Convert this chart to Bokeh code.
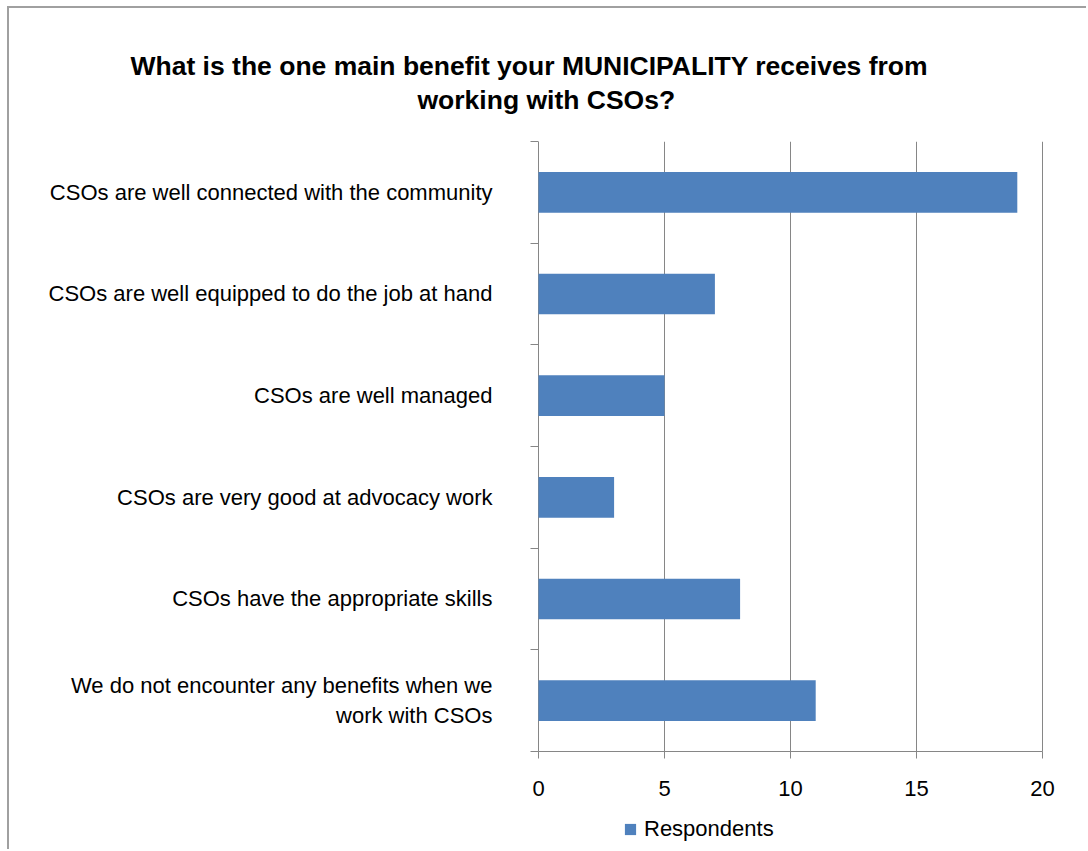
from bokeh.plotting import figure
from bokeh.models import (FixedTicker, Legend, LegendItem, Range1d,
                          LinearAxis, Title)
from bokeh.embed import file_html
from bokeh.resources import INLINE

title_line1 = "What is the one main benefit your MUNICIPALITY receives from"
title_line2 = "working with CSOs?"
categories = [
    "CSOs are well connected with the community",
    "CSOs are well equipped to do the job at hand",
    "CSOs are well managed",
    "CSOs are very good at advocacy work",
    "CSOs have the appropriate skills",
    "We do not encounter any benefits when we\nwork with CSOs",
]
respondents = [19, 7, 5, 3, 8, 11]
series_name = "Respondents"
x_ticks = [0, 5, 10, 15, 20]

n = len(categories)
# top category first: position of band centre (numeric axis 0..n)
ypos = [n - i - 0.5 for i in range(n)]

FONT = "Liberation Sans"
GRAY = "#868686"
BLUE = "#4F81BD"

PX_PER_UNIT = 25.2   # 504 px for 0..20
PAD_L, PAD_R = 8, 16  # px of frame beyond 0 and 20 (room for tick labels)

# frame extends below the value axis so that the legend can sit inside it
p = figure(frame_width=504 + PAD_L + PAD_R, frame_height=708,
           min_border_left=529 - PAD_L, min_border_top=133,
           min_border_right=44 - PAD_R, min_border_bottom=0,
           x_range=Range1d(-PAD_L / PX_PER_UNIT, 20 + PAD_R / PX_PER_UNIT),
           y_range=Range1d(-0.964, n),
           output_backend="svg", toolbar_location=None, title=None,
           x_axis_location=None, y_axis_location=None)
p.outline_line_color = None
p.xgrid.visible = False
p.ygrid.visible = False
p.styles = {"border-left": "2px solid #a0a0a0", "border-top": "2px solid #a0a0a0",
            "margin-left": "7px", "margin-top": "6px"}

# vertical gridlines (and the category axis line at 0) spanning the bands
p.segment(x0=x_ticks, y0=0, x1=x_ticks, y1=n,
          line_color=GRAY, line_width=1, level="underlay")

bars = p.hbar(y=ypos, right=respondents, left=0, height=0.4,
              fill_color=BLUE, line_color=None)

# x axis fixed at y = 0
xaxis = LinearAxis(ticker=FixedTicker(ticks=x_ticks, minor_ticks=[]),
                   fixed_location=0, bounds=(0, 20))
xaxis.axis_line_color = GRAY
xaxis.major_tick_line_color = GRAY
xaxis.major_tick_out = 7
xaxis.major_tick_in = 0
xaxis.minor_tick_out = 0
xaxis.major_label_text_font = FONT
xaxis.major_label_text_font_size = "22px"
xaxis.major_label_text_color = "#000000"
xaxis.major_label_standoff = 23
p.add_layout(xaxis, "below")

# y axis: labels at band centres, ticks at band boundaries
yaxis = LinearAxis(ticker=FixedTicker(ticks=ypos, minor_ticks=list(range(n + 1))),
                   bounds=(0, n))
yaxis.major_label_overrides = {ypos[i]: categories[i] for i in range(n)}
yaxis.axis_line_color = None
yaxis.major_tick_out = 0
yaxis.major_tick_in = 0
yaxis.minor_tick_line_color = GRAY
yaxis.minor_tick_out = 0
yaxis.minor_tick_in = PAD_L
yaxis.major_label_text_font = FONT
yaxis.major_label_text_font_size = "22px"
yaxis.major_label_text_color = "#000000"
yaxis.major_label_standoff = 46 - PAD_L
p.add_layout(yaxis, "left")

# title: two lines (first added sits closest to the frame)
t2 = Title(text=title_line2, align="left", offset=-121 + PAD_L, standoff=54,
           text_font=FONT, text_font_style="bold",
           text_font_size="26.5px", text_color="#000000")
t1 = Title(text=title_line1, align="left", offset=-408 + PAD_L, standoff=0,
           text_font=FONT, text_font_style="bold",
           text_font_size="26.5px", text_color="#000000")
try:
    t1.standoff = -50
except Exception:
    t1.standoff = 0
p.add_layout(t2, "above")
p.add_layout(t1, "above")

legend = Legend(items=[LegendItem(label=series_name, renderers=[bars])],
                location=(85 + PAD_L, 7), orientation="horizontal",
                glyph_width=14, glyph_height=14, label_standoff=7,
                padding=0, margin=0, border_line_color=None,
                background_fill_alpha=0,
                label_text_font=FONT, label_text_font_size="22px",
                label_text_color="#000000")
p.add_layout(legend, "center")

open("out.html", "w").write(file_html(p, INLINE))
